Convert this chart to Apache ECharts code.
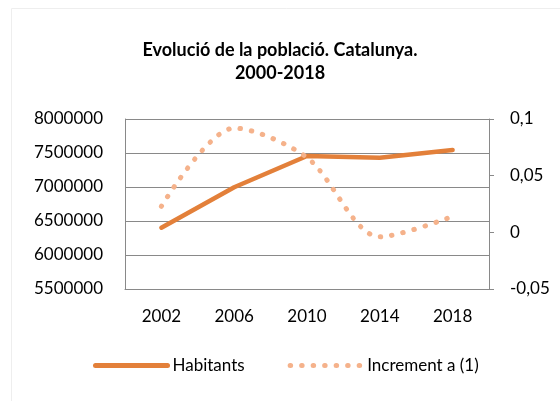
<!DOCTYPE html>
<html>
<head>
<meta charset="utf-8">
<script src="https://cdn.jsdelivr.net/npm/echarts@6/dist/echarts.min.js"></script>
<style>
  html, body { margin: 0; padding: 0; background: #fff; }
  #chart { width: 560px; height: 401px; }
</style>
</head>
<body>
<div id="chart"></div>
<script>
// dades llegides del gràfic
var years = ['2002', '2006', '2010', '2014', '2018'];
var habitants = [6401000, 6996000, 7456000, 7431000, 7544000];
var increment = [0.023, 0.092, 0.066, -0.004, 0.014];

var font = 'Lato, "Open Sans", sans-serif';
var grey = '#898989';

var option = {
    backgroundColor: '#fff',
    animation: false,
    title: {
        text: 'Evolució de la població. Catalunya.\n2000-2018',
        left: 'center',
        top: 34,
        textStyle: {
            fontFamily: font,
            fontSize: 18,
            fontWeight: 'bold',
            color: '#000',
            lineHeight: 23
        }
    },
    graphic: [{
        type: 'rect',
        shape: { x: 11.5, y: 8.5, width: 600, height: 500 },
        style: { fill: 'none', stroke: '#eeeeee', lineWidth: 1 },
        silent: true
    }],
    legend: {
        left: 93,
        top: 357,
        padding: 0,
        itemWidth: 72,
        itemHeight: 16,
        itemGap: 43,
        itemStyle: { opacity: 0 },
        lineStyle: { width: 5 },
        textStyle: { fontFamily: font, fontSize: 17, color: '#000' },
        data: ['Habitants', 'Increment a (1)']
    },
    grid: {
        left: 125,
        right: 71,
        top: 119,
        bottom: 112
    },
    xAxis: {
        type: 'category',
        data: years,
        axisLine: { onZero: false, lineStyle: { color: grey } },
        axisTick: { show: false },
        axisLabel: { fontFamily: font, fontSize: 17, color: '#000', margin: 19 }
    },
    yAxis: [{
        type: 'value',
        min: 5500000,
        max: 8000000,
        interval: 500000,
        axisLine: { show: true, lineStyle: { color: grey } },
        axisTick: { show: false },
        splitLine: { lineStyle: { color: grey, width: 1 } },
        axisLabel: {
            fontFamily: font, fontSize: 17, color: '#000', margin: 22,
            formatter: function (v) { return String(v); }
        }
    }, {
        type: 'value',
        position: 'right',
        min: -0.05,
        max: 0.1,
        interval: 0.05,
        axisLine: { show: true, lineStyle: { color: grey } },
        axisTick: { show: true, inside: false, length: 5, lineStyle: { color: grey } },
        splitLine: { show: false },
        axisLabel: {
            fontFamily: font, fontSize: 17, color: '#000', margin: 21,
            formatter: function (v) {
                return String(Number(v.toFixed(2))).replace('.', ',');
            }
        }
    }],
    series: [{
        name: 'Habitants',
        type: 'line',
        yAxisIndex: 0,
        data: habitants,
        symbol: 'none',
        itemStyle: { color: '#E3803A' },
        lineStyle: { color: '#E3803A', width: 4.5, cap: 'round', join: 'round' }
    }, {
        name: 'Increment a (1)',
        type: 'line',
        yAxisIndex: 1,
        data: increment,
        symbol: 'none',
        smooth: 0.3,
        itemStyle: { color: '#F5B28B' },
        lineStyle: { color: '#F5B28B', width: 5, type: [0.5, 11], cap: 'round' }
    }]
};

var myChart = echarts.init(document.getElementById('chart'));
myChart.setOption(option);
</script>
</body>
</html>
